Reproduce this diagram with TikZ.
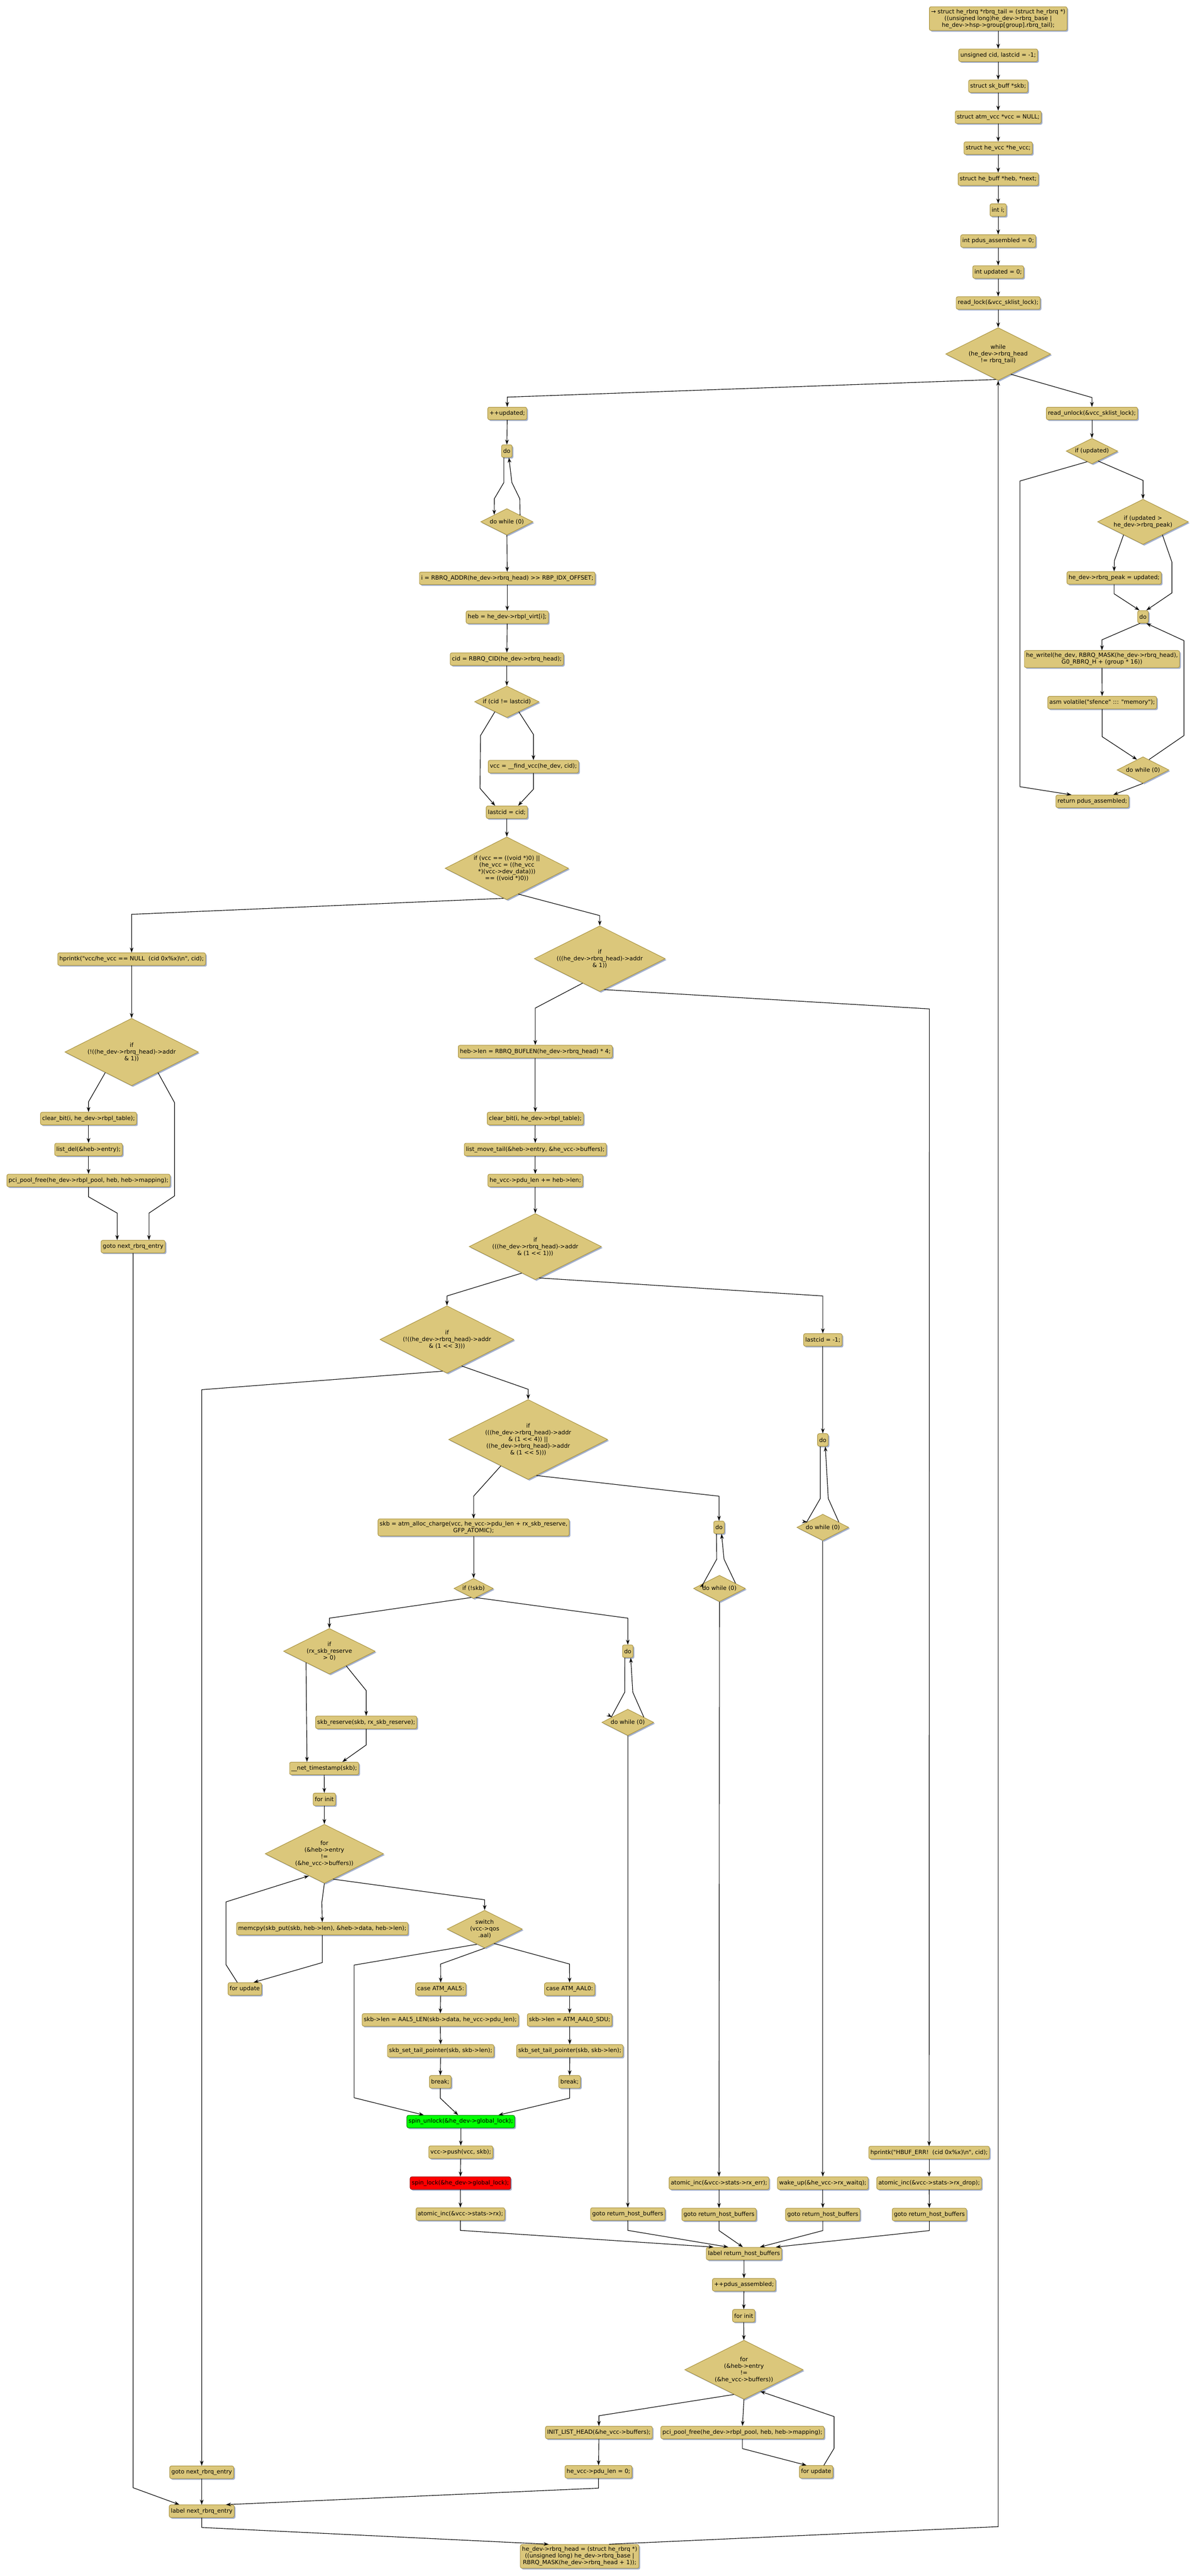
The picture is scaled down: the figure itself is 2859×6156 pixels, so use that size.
\documentclass[tikz,border=0pt]{standalone}
\usepackage{fontspec}
\newfontfamily\gvfont{DejaVu Sans}
\usetikzlibrary{shapes.geometric,shadows,arrows.meta,calc}
\definecolor{nodefill}{RGB}{219,199,123}
\definecolor{nodeline}{RGB}{168,146,64}
\definecolor{shadowblue}{RGB}{163,176,206}
\definecolor{unlockfill}{RGB}{0,255,0}
\definecolor{lockfill}{RGB}{255,0,0}

\begin{document}
\begin{tikzpicture}
[x=1pt,y=-1pt,
StmtNode/.style={rectangle,rounded corners=4pt,draw=nodeline,fill=nodefill,line width=1.2pt,inner xsep=4pt,inner ysep=5.5pt,minimum height=30pt,align=center,font=\gvfont\fontsize{13.8}{16}\selectfont,drop shadow={shadow xshift=3pt,shadow yshift=-3pt,fill=shadowblue,opacity=1}},
CondNode/.style={diamond,aspect=2,draw=nodeline,fill=nodefill,line width=1.2pt,inner sep=0pt,align=center,font=\gvfont\fontsize{13.8}{16}\selectfont,drop shadow={shadow xshift=3pt,shadow yshift=-3pt,fill=shadowblue,opacity=1}},
UnlockNode/.style={StmtNode,fill=unlockfill,draw=green!50!black},
LockNode/.style={StmtNode,fill=lockfill,draw=red!60!black},
Edge/.style={draw,line width=1.4pt,-{Stealth[length=12pt,width=8.5pt]}}]

% page
\fill[white] (0,0) rectangle (2859,6156);
\useasboundingbox (0,0) rectangle (2859,6156);

% declarations
\node[StmtNode] (n1) at (2385,44.5) {→ struct he\_rbrq *rbrq\_tail = (struct he\_rbrq *)\\((unsigned long)he\_dev->rbrq\_base |\\he\_dev->hsp->group[group].rbrq\_tail);};
\node[StmtNode] (n2) at (2385,132) {unsigned cid, lastcid = -1;};
\node[StmtNode] (n3) at (2385,206) {struct sk\_buff *skb;};
\node[StmtNode] (n4) at (2385,280) {struct atm\_vcc *vcc = NULL;};
\node[StmtNode] (n5) at (2385,354) {struct he\_vcc *he\_vcc;};
\node[StmtNode] (n6) at (2385,428) {struct he\_buff *heb, *next;};
\node[StmtNode] (n7) at (2385,502) {int i;};
\node[StmtNode] (n8) at (2385,576) {int pdus\_assembled = 0;};
\node[StmtNode] (n9) at (2385,650) {int updated = 0;};
\node[StmtNode] (n10) at (2385,724) {read\_lock(\&vcc\_sklist\_lock);};
\node[CondNode,minimum width=251pt,minimum height=126pt] (w1) at (2385,846) {while\\(he\_dev->rbrq\_head\\!= rbrq\_tail)};

% loop body
\node[StmtNode] (a1) at (1212,988) {++updated;};
\node[StmtNode] (a2) at (1211,1078) {do};
\node[CondNode,minimum width=125pt,minimum height=63pt] (a3) at (1211,1247) {do while (0)};
\node[StmtNode] (a4) at (1212,1382) {i = RBRQ\_ADDR(he\_dev->rbrq\_head) >> RBP\_IDX\_OFFSET;};
\node[StmtNode] (a5) at (1212,1475) {heb = he\_dev->rbpl\_virt[i];};
\node[StmtNode] (a6) at (1211,1575) {cid = RBRQ\_CID(he\_dev->rbrq\_head);};
\node[CondNode,minimum width=154pt,minimum height=75pt] (a7) at (1211,1677) {if (cid != lastcid)};
\node[StmtNode] (a8) at (1274.5,1832) {vcc = \_\_find\_vcc(he\_dev, cid);};
\node[StmtNode] (a9) at (1211,1941) {lastcid = cid;};
\node[CondNode,minimum width=295pt,minimum height=150pt] (a10) at (1211,2075) {if (vcc == ((void *)0) ||\\(he\_vcc = ((he\_vcc\\{}*)(vcc->dev\_data)))\\== ((void *)0))};

% no vcc
\node[StmtNode] (b1) at (314.5,2292) {hprintk("vcc/he\_vcc == NULL\ \ (cid 0x\%x)\textbackslash n", cid);};
\node[CondNode,minimum width=319pt,minimum height=161pt] (b2) at (314.5,2514) {if\\(!((he\_dev->rbrq\_head)->addr\\\& 1))};
\node[StmtNode] (b3) at (211.5,2673) {clear\_bit(i, he\_dev->rbpl\_table);};
\node[StmtNode] (b4) at (211.5,2747) {list\_del(\&heb->entry);};
\node[StmtNode] (b5) at (211.5,2821) {pci\_pool\_free(he\_dev->rbpl\_pool, heb, heb->mapping);};
\node[StmtNode] (b6) at (318,2979) {goto next\_rbrq\_entry};

% buffer checks
\node[CondNode,minimum width=313pt,minimum height=157pt] (c1) at (1433,2291) {if\\(((he\_dev->rbrq\_head)->addr\\\& 1))};
\node[StmtNode] (c2) at (1279,2513) {heb->len = RBRQ\_BUFLEN(he\_dev->rbrq\_head) * 4;};
\node[StmtNode] (c3) at (1279,2673) {clear\_bit(i, he\_dev->rbpl\_table);};
\node[StmtNode] (c4) at (1279,2747) {list\_move\_tail(\&heb->entry, \&he\_vcc->buffers);};
\node[StmtNode] (c5) at (1279,2821) {he\_vcc->pdu\_len += heb->len;};
\node[CondNode,minimum width=316pt,minimum height=158pt] (c6) at (1279,2979) {if\\(((he\_dev->rbrq\_head)->addr\\\& (1 << 1)))};
\node[CondNode,minimum width=320pt,minimum height=161pt] (c7) at (1068,3201) {if\\(!((he\_dev->rbrq\_head)->addr\\\& (1 << 3)))};
\node[StmtNode] (c8) at (1966,3202) {lastcid = -1;};
\node[StmtNode] (c9) at (1966,3441) {do};
\node[CondNode,minimum width=124pt,minimum height=63pt] (c10) at (1966,3650) {do while (0)};
\node[CondNode,minimum width=380pt,minimum height=191pt] (c11) at (1262,3440) {if\\(((he\_dev->rbrq\_head)->addr\\\& (1 << 4)) ||\\((he\_dev->rbrq\_head)->addr\\\& (1 << 5)))};
\node[StmtNode] (c12) at (1131.6,3650) {skb = atm\_alloc\_charge(vcc, he\_vcc->pdu\_len + rx\_skb\_reserve,\\GFP\_ATOMIC);};
\node[StmtNode] (c13) at (1718,3650) {do};
\node[CondNode,minimum width=124pt,minimum height=63pt] (c14) at (1719,3796) {do while (0)};
\node[CondNode,minimum width=94pt,minimum height=48pt] (c15) at (1131.6,3796) {if (!skb)};

% skb filling
\node[CondNode,minimum width=219pt,minimum height=109pt] (d1) at (787,3946) {if\\(rx\_skb\_reserve\\> 0)};
\node[StmtNode] (d2) at (1500,3946) {do};
\node[CondNode,minimum width=124pt,minimum height=63pt] (d3) at (1500,4116) {do while (0)};
\node[StmtNode] (d4) at (875,4116) {skb\_reserve(skb, rx\_skb\_reserve);};
\node[StmtNode] (d5) at (774.5,4226) {\_\_net\_timestamp(skb);};
\node[StmtNode] (d6) at (775,4300) {for init};
\node[CondNode,minimum width=283pt,minimum height=141pt] (d7) at (775,4430) {for\\(\&heb->entry\\!=\\(\&he\_vcc->buffers))};
\node[StmtNode] (d8) at (770,4609) {memcpy(skb\_put(skb, heb->len), \&heb->data, heb->len);};
\node[CondNode,minimum width=180pt,minimum height=90pt] (d9) at (1158,4610) {switch\\(vcc->qos\\.aal)};
\node[StmtNode] (d10) at (585,4753) {for update};

% switch cases
\node[StmtNode] (e1) at (1053,4753.5) {case ATM\_AAL5:};
\node[StmtNode] (e2) at (1361,4753.5) {case ATM\_AAL0:};
\node[StmtNode] (e3) at (1052,4827) {skb->len = AAL5\_LEN(skb->data, he\_vcc->pdu\_len);};
\node[StmtNode] (e4) at (1361,4827) {skb->len = ATM\_AAL0\_SDU;};
\node[StmtNode] (e5) at (1053,4901) {skb\_set\_tail\_pointer(skb, skb->len);};
\node[StmtNode] (e6) at (1361.5,4901) {skb\_set\_tail\_pointer(skb, skb->len);};
\node[StmtNode] (e7) at (1052,4975) {break;};
\node[StmtNode] (e8) at (1361,4975) {break;};
\node[UnlockNode] (e9) at (1101,5070) {spin\_unlock(\&he\_dev->global\_lock);};
\node[StmtNode] (e10) at (1101,5143) {vcc->push(vcc, skb);};
\node[LockNode] (e11) at (1100,5217) {spin\_lock(\&he\_dev->global\_lock);};
\node[StmtNode] (e12) at (1100,5291) {atomic\_inc(\&vcc->stats->rx);};

% error paths
\node[StmtNode] (f1) at (1500,5291) {goto return\_host\_buffers};
\node[StmtNode] (f2) at (1718,5217) {atomic\_inc(\&vcc->stats->rx\_err);};
\node[StmtNode] (f3) at (1718,5292) {goto return\_host\_buffers};
\node[StmtNode] (f4) at (1966,5217) {wake\_up(\&he\_vcc->rx\_waitq);};
\node[StmtNode] (f5) at (1966,5292) {goto return\_host\_buffers};
\node[StmtNode] (f6) at (2220,5144) {hprintk("HBUF\_ERR!\ \ (cid 0x\%x)\textbackslash n", cid);};
\node[StmtNode] (f7) at (2220,5217) {atomic\_inc(\&vcc->stats->rx\_drop);};
\node[StmtNode] (f8) at (2220.6,5292) {goto return\_host\_buffers};

% return host buffers
\node[StmtNode] (g1) at (1777.7,5385.5) {label return\_host\_buffers};
\node[StmtNode] (g2) at (1777.6,5460) {++pdus\_assembled;};
\node[StmtNode] (g3) at (1777,5534) {for init};
\node[CondNode,minimum width=283pt,minimum height=141pt] (g4) at (1777.6,5663) {for\\(\&heb->entry\\!=\\(\&he\_vcc->buffers))};
\node[StmtNode] (g5) at (1431,5813) {INIT\_LIST\_HEAD(\&he\_vcc->buffers);};
\node[StmtNode] (g6) at (1774,5813) {pci\_pool\_free(he\_dev->rbpl\_pool, heb, heb->mapping);};
\node[StmtNode] (g7) at (1950,5907) {for update};
\node[StmtNode] (g8) at (1430,5907) {he\_vcc->pdu\_len = 0;};

% next entry
\node[StmtNode] (h1) at (482,5908) {goto next\_rbrq\_entry};
\node[StmtNode] (h2) at (482,6001) {label next\_rbrq\_entry};
\node[StmtNode] (h3) at (1385,6109) {he\_dev->rbrq\_head = (struct he\_rbrq *)\\((unsigned long) he\_dev->rbrq\_base |\\RBRQ\_MASK(he\_dev->rbrq\_head + 1));};

% after loop
\node[StmtNode] (r1) at (2609,988) {read\_unlock(\&vcc\_sklist\_lock);};
\node[CondNode,minimum width=123pt,minimum height=61pt] (r2) at (2609,1078) {if (updated)};
\node[CondNode,minimum width=217pt,minimum height=108pt] (r3) at (2731,1247) {if (updated >\\he\_dev->rbrq\_peak)};
\node[StmtNode] (r4) at (2662,1381) {he\_dev->rbrq\_peak = updated;};
\node[StmtNode] (r5) at (2731,1474) {do};
\node[StmtNode] (r6) at (2633,1575) {he\_writel(he\_dev, RBRQ\_MASK(he\_dev->rbrq\_head),\\G0\_RBRQ\_H + (group * 16))};
\node[StmtNode] (r7) at (2633.5,1679) {asm volatile("sfence" ::: "memory");};
\node[CondNode,minimum width=124pt,minimum height=63pt] (r8) at (2731,1840) {do while (0)};
\node[StmtNode] (r9) at (2610,1915) {return pdus\_assembled;};

% edges: declarations
\draw[Edge] (n1) -- (n2);
\draw[Edge] (n2) -- (n3);
\draw[Edge] (n3) -- (n4);
\draw[Edge] (n4) -- (n5);
\draw[Edge] (n5) -- (n6);
\draw[Edge] (n6) -- (n7);
\draw[Edge] (n7) -- (n8);
\draw[Edge] (n8) -- (n9);
\draw[Edge] (n9) -- (n10);
\draw[Edge] (n10) -- (w1);
\draw[Edge] (w1.265) -- (1212,949) -- (a1.north);
\draw[Edge] (w1.-58) -- (2609,950) -- (r1.north);
\draw[Edge] ([xshift=70pt]h3.north) -- (2385,6038) -- (w1.south);

% edges: loop body
\draw[Edge] (a1) -- (a2);
\draw[Edge] ([xshift=-7pt]a2.south) -- (1204,1153) -- (1181,1192) -- (a3.151);
\draw[Edge] (a3.27) -- (1242,1192) -- (1223,1153) -- ([xshift=5pt]a2.south);
\draw[Edge] (a3) -- (a4);
\draw[Edge] (a4) -- (a5);
\draw[Edge] (a5) -- (a6);
\draw[Edge] (a6) -- (a7);
\draw[Edge] (a7.220) -- (1148,1758) -- (1147,1884) -- ([xshift=-28pt]a9.north);
\draw[Edge] (a7.-40) -- (1274.5,1755) -- (a8.north);
\draw[Edge] (a8.south) -- (1274.5,1886) -- ([xshift=27pt]a9.north);
\draw[Edge] (a9) -- (a10);
\draw[Edge] (a10.264) -- (314.5,2185) -- (b1.north);
\draw[Edge] (a10.-66) -- (1433,2188) -- (c1.north);

% edges: no vcc
\draw[Edge] (b1) -- (b2);
\draw[Edge] (b2.218) -- (211.5,2633) -- (b3.north);
\draw[Edge] (b2.-38) -- (417,2635) -- (417,2858) -- (356,2899) -- ([xshift=38pt]b6.north);
\draw[Edge] (b3) -- (b4);
\draw[Edge] (b4) -- (b5);
\draw[Edge] (b5.south) -- (211.5,2860) -- (280,2899) -- ([xshift=-38pt]b6.north);
\draw[Edge] (b6.south) -- (318,5945) -- ([xshift=-53.5pt]h2.north);

% edges: buffer checks
\draw[Edge] (c1.235) -- (1279,2409) -- (c2.north);
\draw[Edge] (c1.-82) -- (2220.6,2411) -- (f6.north);
\draw[Edge] (c2) -- (c3);
\draw[Edge] (c3) -- (c4);
\draw[Edge] (c4) -- (c5);
\draw[Edge] (c5) -- (c6);
\draw[Edge] (c6.243) -- (1068,3097) -- (c7.north);
\draw[Edge] (c6.-83) -- (1966,3097) -- (c8.north);
\draw[Edge] (c7.262) -- (482,3321) -- (h1.north);
\draw[Edge] (c7.-61) -- (1262,3320) -- (c11.north);
\draw[Edge] (c8) -- (c9);
\draw[Edge] ([xshift=-6pt]c9.south) -- (1960,3581) -- (1927.6,3637) -- (c10.161);
\draw[Edge] (c10.18) -- (1979,3581) -- ([xshift=6pt]c9.south);
\draw[Edge] (c10.south) -- (f4.north);
\draw[Edge] (c11.224) -- (1131.6,3575.5) -- (c12.north);
\draw[Edge] (c11.-77) -- (1718,3575.5) -- (c13.north);
\draw[Edge] (c12) -- (c15);
\draw[Edge] ([xshift=-6pt]c13.south) -- (1712.5,3726) -- (1680,3785) -- (c14.162);
\draw[Edge] (c14.18) -- (1730,3726) -- ([xshift=6pt]c13.south);
\draw[Edge] (c14.south) -- (f2.north);
\draw[Edge] (c15.255) -- (787,3867) -- (d1.north);
\draw[Edge] (c15.-76) -- (1500,3867) -- (d2.north);

% edges: skb filling
\draw[Edge] (d1.206) -- ([xshift=-41pt]d5.north);
\draw[Edge] (d1.-41) -- (875,4040) -- (d4.north);
\draw[Edge] (d4.south) -- (875,4170) -- ([xshift=43.5pt]d5.north);
\draw[Edge] ([xshift=-7pt]d2.south) -- (1492.6,4044) -- (1460.8,4103) -- (d3.162);
\draw[Edge] (d3.18) -- (1512,4044) -- ([xshift=7pt]d2.south);
\draw[Edge] (d3.south) -- (f1.north);
\draw[Edge] (d5) -- (d6);
\draw[Edge] (d6) -- (d7);
\draw[Edge] (d7.south) -- (769,4546) -- (d8.north);
\draw[Edge] (d7.-71) -- (1158,4540) -- (d9.north);
\draw[Edge] (d8.south) -- (770,4690) -- ([xshift=21pt]d10.north);
\draw[Edge] ([xshift=-18pt]d10.north) -- (540,4695) -- (540,4545) -- (d7.235);
\draw[Edge] (d9.243) -- (846,4696) -- (846,5013) -- ([xshift=-88.5pt]e9.north);
\draw[Edge] (d9.south) -- (1052.7,4693.5) -- (e1.north);
\draw[Edge] (d9.-57) -- (1360.7,4693.5) -- (e2.north);

% edges: switch cases
\draw[Edge] (e1) -- (e3);
\draw[Edge] (e3) -- (e5);
\draw[Edge] (e5) -- (e7);
\draw[Edge] (e2) -- (e4);
\draw[Edge] (e4) -- (e6);
\draw[Edge] (e6) -- (e8);
\draw[Edge] (e7.south) -- (1052,5014) -- ([xshift=-6.4pt]e9.north);
\draw[Edge] (e8.south) -- (1361,5014) -- ([xshift=90pt]e9.north);
\draw[Edge] (e9) -- (e10);
\draw[Edge] (e10) -- (e11);
\draw[Edge] (e11) -- (e12);
\draw[Edge] (e12.south) -- (1100,5330) -- ([xshift=-73pt]g1.north);

% edges: error paths
\draw[Edge] (f1.south) -- (1500,5330) -- ([xshift=-37.7pt]g1.north);
\draw[Edge] (f2) -- (f3);
\draw[Edge] (f3.south) -- (1718,5330.5) -- ([xshift=-2.7pt]g1.north);
\draw[Edge] (f4) -- (f5);
\draw[Edge] (f5.south) -- (1966,5330.5) -- ([xshift=38pt]g1.north);
\draw[Edge] (f6) -- (f7);
\draw[Edge] (f7) -- (f8);
\draw[Edge] (f8.south) -- (2220.6,5330.5) -- ([xshift=76pt]g1.north);

% edges: return host buffers
\draw[Edge] (g1) -- (g2);
\draw[Edge] (g2) -- (g3);
\draw[Edge] (g3) -- (g4);
\draw[Edge] (g4.248) -- (1431,5773) -- (g5.north);
\draw[Edge] (g4.south) -- (g6.north);
\draw[Edge] (g6.south) -- (1774,5851.5) -- ([xshift=-23pt]g7.north);
\draw[Edge] ([xshift=18.5pt]g7.north) -- (1993,5850.6) -- (1993,5775) -- (g4.-53);
\draw[Edge] (g5) -- (g8);
\draw[Edge] (g8.south) -- (1430,5946) -- ([xshift=58pt]h2.north);
\draw[Edge] (h1) -- (h2);
\draw[Edge] (h2.south) -- (482,6040) -- ([xshift=-74pt]h3.north);

% edges: after loop
\draw[Edge] (r1) -- (r2);
\draw[Edge] (r2.246) -- (2437,1149.5) -- (2437,1880) -- ([xshift=-50pt]r9.north);
\draw[Edge] (r2.-58) -- (2731,1148) -- (r3.north);
\draw[Edge] (r3.214) -- (2662.6,1340) -- (r4.north);
\draw[Edge] (r3.-34) -- (2800,1343) -- (2800,1417) -- ([xshift=8pt]r5.north);
\draw[Edge] (r4.south) -- (2662,1419) -- ([xshift=-8.5pt]r5.north);
\draw[Edge] ([xshift=-7pt]r5.south) -- (2633,1529) -- (r6.north);
\draw[Edge] (r6) -- (r7);
\draw[Edge] (r7.south) -- (2633.5,1760.5) -- (r8.120);
\draw[Edge] (r8.60) -- (2829,1757.7) -- (2829,1531) -- ([xshift=8pt]r5.south);
\draw[Edge] (r8.south) -- ([xshift=50pt]r9.north);

\end{tikzpicture}
\end{document}
